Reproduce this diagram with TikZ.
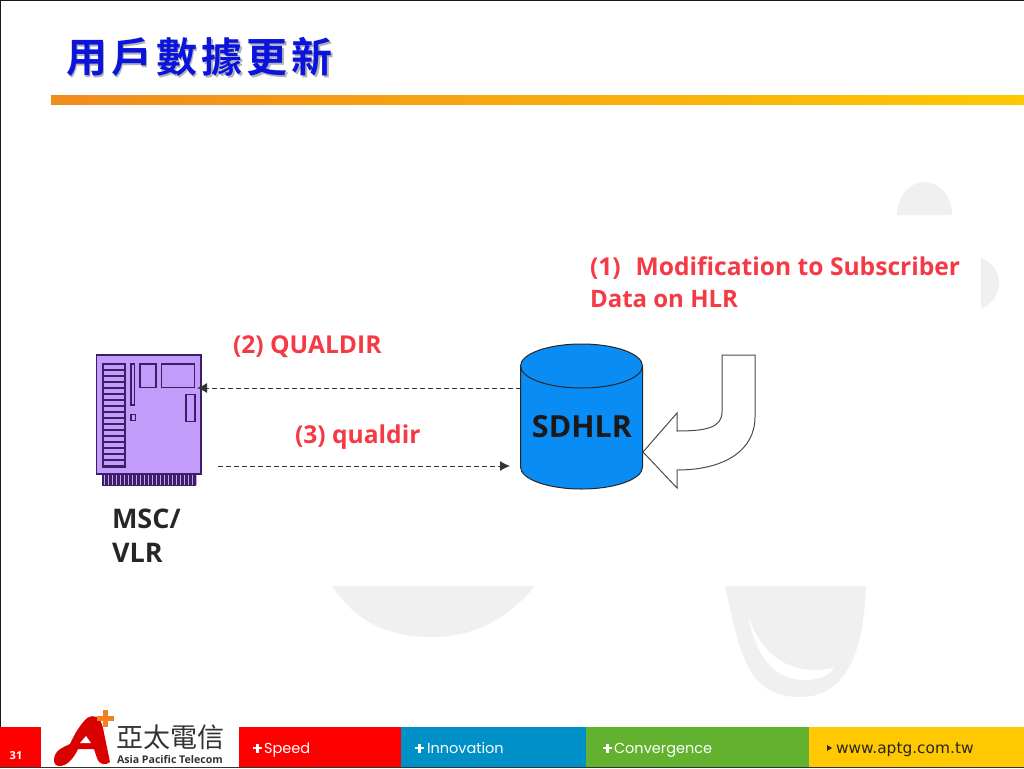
\documentclass[tikz,border=0pt]{standalone}
\usepackage{fontspec}
\setmainfont{Open Sans}
\newfontfamily\cjk{Noto Sans CJK TC}
\newfontfamily\cjkb{Noto Sans CJK TC Bold}
\newfontfamily\lbl{Open Sans}[BoldFont={* Bold}]
\newfontfamily\foot{Poppins}
\newfontfamily\urlf{DejaVu Sans}
\usetikzlibrary{arrows.meta,shapes.geometric}
\definecolor{lab}{HTML}{F53A46}
\definecolor{wm}{HTML}{F0F0F0}
\definecolor{barA}{HTML}{F08C1E}
\definecolor{barB}{HTML}{FFC800}
\definecolor{msc}{HTML}{C39BFA}
\definecolor{mscd}{HTML}{3C1E64}
\definecolor{hlr}{HTML}{0A8CF5}
\definecolor{titleb}{HTML}{0A14DC}
\definecolor{fblue}{HTML}{0090C8}
\definecolor{fgreen}{HTML}{62B22F}
\definecolor{fyel}{HTML}{FFC800}
\definecolor{forange}{HTML}{F08020}
\newcommand{\titletext}{用\hspace{4.2pt}戶\hspace{4.2pt}數\hspace{4.2pt}據\hspace{4.2pt}更\hspace{4.2pt}新}
\tikzset{
 every node/.style={inner sep=0pt,outer sep=0pt},
 label text/.style={anchor=west,font=\lbl\bfseries\fontsize{24.6}{30}\selectfont,text=lab},
 foot text/.style={anchor=base west,font=\foot\fontsize{14.5}{18}\selectfont,text=white},
 chip/.style={draw=mscd,line width=1.2pt},
 dashline/.style={draw=black!80,line width=1pt,dash pattern=on 5pt off 3pt,-{Latex[length=10pt,width=10pt]}},
}
\begin{document}
\begin{tikzpicture}[x=1pt,y=-1pt]
\useasboundingbox (0,0) rectangle (1024,768);
\fill[white] (0,0) rectangle (1024,768);
% watermark
\fill[wm] (897,215) arc[start angle=180,end angle=360,x radius=27.5,y radius=33] -- cycle;
\fill[wm] (981,258) .. controls (992,262) and (999,272) .. (999,283) .. controls (999,295) and (992,304) .. (981,309) -- cycle;
\fill[wm] (332,586) -- (535,586) .. controls (505,622) and (470,637) .. (432,637) .. controls (385,637) and (355,620) .. (332,586) -- cycle;
\fill[wm] (725,586) -- (866,586) .. controls (864,640) and (852,697) .. (800,697) .. controls (745,697) and (740,650) .. (725,586) -- cycle;
\fill[white] (748,616) .. controls (755,650) and (770,680) .. (805,680) .. controls (820,680) and (830,675) .. (834,668) .. controls (800,675) and (765,665) .. (748,616) -- cycle;
% frame
\draw[black!90,line width=1pt] (0.5,768) -- (0.5,0.5) -- (1024,0.5);
% title
\node[anchor=west,font=\cjkb\fontsize{41}{41}\selectfont,text=black!30] (titleshadow) at (67.5,58.5) {\titletext};
\node[anchor=west,font=\cjkb\fontsize{41}{41}\selectfont,text=titleb] (title) at (66,57) {\titletext};
% bar
\shade[left color=barA,right color=barB] (51,95) rectangle (1024,104);
% MSC card
\fill[mscd] (102,474) rectangle (196,486);
\foreach \x in {104,108,...,196}{\draw[msc,line width=0.9pt] (\x,475) -- (\x,485);}
\node[draw=mscd,fill=msc,line width=1.2pt,minimum width=104.5pt,minimum height=119pt,anchor=north west] (card) at (96.5,355) {};
\draw[chip] (103,364) rectangle (125,467);
\foreach \y in {370,376,...,466}{\draw[chip] (103,\y) -- (125,\y);}
\draw[chip] (131,364) rectangle (134.5,405);
\draw[chip] (131,414.5) rectangle (135.5,420.5);
\draw[chip] (140,364) rectangle (156,387.5);
\draw[chip] (161.5,364) rectangle (194.5,387.5);
\draw[chip] (186,394.5) rectangle (195,421.5);
\node[anchor=north west,align=left,font=\lbl\bfseries\fontsize{27}{34}\selectfont,text=black!85] (msclbl) at (112,509) {MSC/\\VLR};
% SDHLR cylinder
\path[fill=hlr,draw=black!85,line width=1pt] (520.5,366) -- (520.5,467) arc[start angle=180,end angle=0,x radius=61,y radius=22] -- (642.5,366) arc[start angle=0,end angle=-180,x radius=61,y radius=22] -- cycle;
\draw[black!85,line width=1pt] (520.5,366) arc[start angle=180,end angle=0,x radius=61,y radius=22];
\node[font=\lbl\fontsize{30.5}{33}\selectfont\bfseries,text=black!90] (hlrn) at (582,427) {SDHLR};
\coordinate (hlrw1) at (520.5,388);
\coordinate (hlrw2) at (510,466);
\coordinate (cardE) at (197,388);
\coordinate (cardB) at (218,466);
% curved arrow
\path[fill=white,draw=black!70,line width=1pt] (722,355) -- (755,355) -- (755,417) .. controls (755,450) and (725,470) .. (677,470) -- (677,488) -- (643,452) -- (677,413) -- (677,431) .. controls (705,431) and (722,428) .. (722,412) -- cycle;
% connectors
\draw[dashline] (hlrw1) -- (cardE);
\draw[dashline] (cardB) -- (hlrw2);
% labels
\node[label text] (l1) at (590,268) {(1)\hspace{15pt}Modification to Subscriber};
\node[label text,font=\lbl\bfseries\fontsize{24}{30}\selectfont] (l1b) at (590,299) {Data on HLR};
\node[label text] (l2) at (233,347) {(2) QUALDIR};
\node[label text] (l3) at (295,437) {(3) qualdir};
% footer
\fill[red] (0,727) rectangle (41,768);
\fill[red] (239,727) rectangle (401,768);
\fill[fblue] (401,727) rectangle (586,768);
\fill[fgreen] (586,727) rectangle (809,768);
\fill[fyel] (809,727) rectangle (1024,768);
\draw[black!80,line width=1pt] (0,767.5) -- (1024,767.5);
\node[anchor=center,font=\lbl\bfseries\fontsize{11}{11}\selectfont,text=white] (pg) at (16,755.5) {31};
\node[foot text] (f1) at (264,753) {Speed};
\node[foot text] (f2) at (427,753) {Innovation};
\node[foot text] (f3) at (614,753) {Convergence};
\node[foot text,font=\urlf\fontsize{15.4}{18}\selectfont,text=black!85] (f4) at (836,753) {www.aptg.com.tw};
\foreach \c in {(257.5,748),(419.5,748),(607.5,748)}{\fill[white] \c ++(-4.5,-1.3) rectangle ++(9,2.6); \fill[white] \c ++(-1.3,-4.5) rectangle ++(2.6,9);}
\fill[black!85] (827,745) -- (832,748) -- (827,751) -- cycle;
% logo
\path[fill=red!85!black] (54,760) .. controls (54,750) and (64,747) .. (70,744) .. controls (75,733) and (80,725) .. (87,718) .. controls (95,714) and (100,716) .. (103,728) -- (110,762) .. controls (106,765) and (100,766) .. (97,758) -- (94,749) -- (78,749) .. controls (74,758) and (67,766) .. (60,766) .. controls (56,766) and (54,764) .. (54,760) -- cycle;
\fill[white] (86,736) -- (91,743) -- (80,743) -- cycle;
\fill[forange] (96.5,715.5) rectangle (113.5,720.5);
\fill[forange] (102.5,710) rectangle (107.5,727);
\node[anchor=west,font=\cjk\fontsize{27}{27}\selectfont,text=black!80] (lg1) at (116,737.5) {亞太電信};
\node[anchor=west,font=\lbl\bfseries\fontsize{10.6}{11}\selectfont,text=black!80] (lg2) at (117,759.5) {Asia Pacific Telecom};
\end{tikzpicture}
\end{document}
